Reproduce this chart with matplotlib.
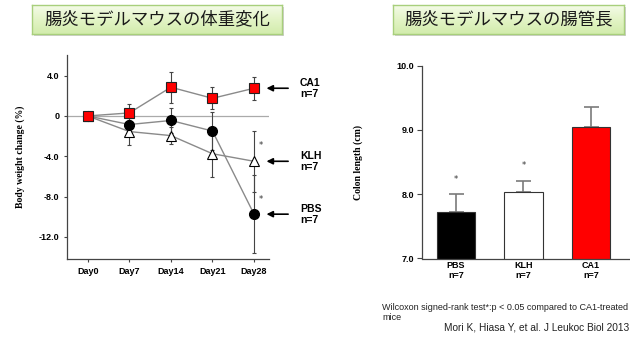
import matplotlib
matplotlib.use("Agg")
import matplotlib.pyplot as plt
import numpy as np
from matplotlib.patches import Rectangle

# body weight change (%)
days = ["Day0", "Day7", "Day14", "Day21", "Day28"]
ca1_mean = [0, 0.3, 2.85, 1.75, 2.75]
ca1_err = [0, 0.9, 1.55, 1.1, 1.15]
pbs_mean = [0, -0.85, -0.45, -1.5, -9.75]
pbs_err = [0, 0.4, 1.25, 1.9, 3.9]
klh_mean = [0, -1.55, -1.95, -3.75, -4.5]
klh_err = [0, 1.3, 0.85, 2.35, 3.05]
weight_yticks = [4.0, 0, -4.0, -8.0, -12.0]
weight_ylabels = ["4.0", "0", "-4.0", "-8.0", "-12.0"]

# colon length (cm)
groups = ["PBS\nn=7", "KLH\nn=7", "CA1\nn=7"]
colon_mean = [7.73, 8.03, 9.05]
colon_err = [0.27, 0.18, 0.31]
colon_colors = ["black", "white", "#ff0000"]

title_left = "腸炎モデルマウスの体重変化"
title_right = "腸炎モデルマウスの腸管長"
note_lines = ["Wilcoxon signed-rank test*:p < 0.05 compared to CA1-treated", "mice"]
cite = "Mori K, Hiasa Y, et al. J Leukoc Biol 2013"

W, H = 630, 338
fig = plt.figure(figsize=(W / 100, H / 100), dpi=100)
sans = ["Liberation Sans", "DejaVu Sans"]
serif = ["Liberation Serif", "DejaVu Serif"]
cjk = ["Noto Sans CJK JP", "DejaVu Sans"]


def px_axes(x0, y0, x1, y1):
    """Axes rect from pixel box (top-left origin)."""
    return [x0 / W, 1 - y1 / H, (x1 - x0) / W, (y1 - y0) / H]


def title_box(x0, y0, x1, y1, text):
    # soft shadow behind the box
    fig.patches.append(Rectangle((x0 / W + 2 / W, 1 - y1 / H - 2 / H), (x1 - x0) / W, (y1 - y0) / H,
                                 transform=fig.transFigure, facecolor="#d0d0d0", edgecolor="none", zorder=-5))
    bax = fig.add_axes(px_axes(x0, y0, x1, y1))
    bax.set_zorder(2)
    grad = np.linspace(0, 1, 64).reshape(-1, 1)
    cmap = matplotlib.colors.LinearSegmentedColormap.from_list("g", ["#f4fbe8", "#e3f4c6", "#d2ecac"])
    bax.imshow(grad, aspect="auto", cmap=cmap, extent=[0, 1, 0, 1])
    bax.set_xticks([])
    bax.set_yticks([])
    for s in bax.spines.values():
        s.set_color("#a8cf7c")
        s.set_linewidth(1.0)
    bax.text(0.5, 0.5, text, ha="center", va="center", fontsize=12.5, family=cjk, color="#1a1a1a")


title_box(32, 5, 282, 34, title_left)
title_box(393, 5, 624, 34, title_right)

# ---- left: body weight change ----
ax = fig.add_axes(px_axes(67, 55, 269, 259))
x = np.arange(len(days))
ax.axhline(0, color="#aaaaaa", lw=0.9, zorder=1)
line_c = "#8a8a8a"
for mean, err in [(klh_mean, klh_err), (pbs_mean, pbs_err), (ca1_mean, ca1_err)]:
    ax.errorbar(x[1:], mean[1:], yerr=err[1:], fmt="none", ecolor="#444444", elinewidth=0.8,
                capsize=1.6, capthick=0.8, zorder=2)
ax.plot(x, klh_mean, color=line_c, lw=1.0, marker="^", ms=7, mfc="white", mec="black", mew=0.8, zorder=3)
ax.plot(x, pbs_mean, color=line_c, lw=1.0, marker="o", ms=7, mfc="black", mec="black", zorder=4)
ax.plot(x, ca1_mean, color=line_c, lw=1.0, marker="s", ms=6.5, mfc="#ff0000", mec="#222222", mew=0.8, zorder=5)

ax.set_xlim(-0.5, 4.36)
ax.set_ylim(-14.2, 6.05)
ax.set_xticks(x)
ax.set_xticklabels(days)
ax.set_yticks(weight_yticks)
ax.set_yticklabels(weight_ylabels)
for lab in ax.get_xticklabels() + ax.get_yticklabels():
    lab.set_family(sans)
    lab.set_fontweight("bold")
    lab.set_fontsize(6.5)
ax.tick_params(length=2.5, width=0.8, color="#444444", pad=3)
ax.spines["top"].set_visible(False)
ax.spines["right"].set_visible(False)
for s in ["left", "bottom"]:
    ax.spines[s].set_color("#444444")
    ax.spines[s].set_linewidth(0.9)
ax.set_ylabel("Body weight change (%)", family=serif, fontweight="bold", fontsize=7, labelpad=10)

# significance stars and group labels with arrows
ax.text(4.16, -2.9, "*", ha="center", va="center", fontsize=6, color="#333333")
ax.text(4.16, -8.3, "*", ha="center", va="center", fontsize=6, color="#333333")
for name, mean in [("CA1", ca1_mean), ("KLH", klh_mean), ("PBS", pbs_mean)]:
    yv = mean[-1]
    ax.annotate("", xy=(4.3, yv), xytext=(4.82, yv), annotation_clip=False,
                arrowprops=dict(arrowstyle="-|>", color="black", lw=1.2, mutation_scale=9, shrinkA=0, shrinkB=0))
    ax.text(5.1, yv, name + "\nn=7", ha="left", va="center", fontsize=7.5, fontweight="bold",
            family=sans, linespacing=1.1, clip_on=False)

# ---- right: colon length ----
bx = fig.add_axes(px_axes(422, 65.7, 629, 258.5))
xb = np.arange(len(groups))
bx.bar(xb, colon_mean, width=0.57, color=colon_colors, edgecolor="#333333", linewidth=0.8, zorder=2)
bx.errorbar(xb, colon_mean, yerr=[np.zeros(len(colon_err)), colon_err], fmt="none", ecolor="#7a7a7a",
            elinewidth=1.2, capsize=5.4, capthick=1.2, zorder=1)
bx.text(0, 8.23, "*", ha="center", va="center", fontsize=6, color="#333333")
bx.text(1, 8.44, "*", ha="center", va="center", fontsize=6, color="#333333")
bx.set_xlim(-0.5, 2.56)
bx.set_ylim(7.0, 10.0)
bx.set_yticks([7.0, 8.0, 9.0, 10.0])
bx.set_yticklabels(["%.1f" % v for v in [7.0, 8.0, 9.0, 10.0]])
bx.set_xticks(xb)
bx.set_xticklabels(groups)
for lab in bx.get_xticklabels() + bx.get_yticklabels():
    lab.set_family(sans)
    lab.set_fontweight("bold")
    lab.set_fontsize(6.5)
    lab.set_linespacing(1.05)
bx.tick_params(axis="y", length=3.5, width=0.8, color="#444444", pad=2)
bx.tick_params(axis="x", length=0, pad=2)
bx.spines["top"].set_visible(False)
bx.spines["right"].set_visible(False)
for s in ["left", "bottom"]:
    bx.spines[s].set_color("#444444")
    bx.spines[s].set_linewidth(0.9)
bx.set_ylabel("Colon length (cm)", family=serif, fontweight="bold", fontsize=7, labelpad=24)

fig.text(382 / W, 1 - 307.5 / H, note_lines[0], ha="left", va="center", fontsize=6.5, family=sans, color="#222222")
fig.text(382 / W, 1 - 317 / H, note_lines[1], ha="left", va="center", fontsize=6.5, family=sans, color="#222222")
fig.text(444 / W, 1 - 327 / H, cite, ha="left", va="center", fontsize=7.3, family=sans, color="#222222")

fig.savefig("out.png", dpi=100)
